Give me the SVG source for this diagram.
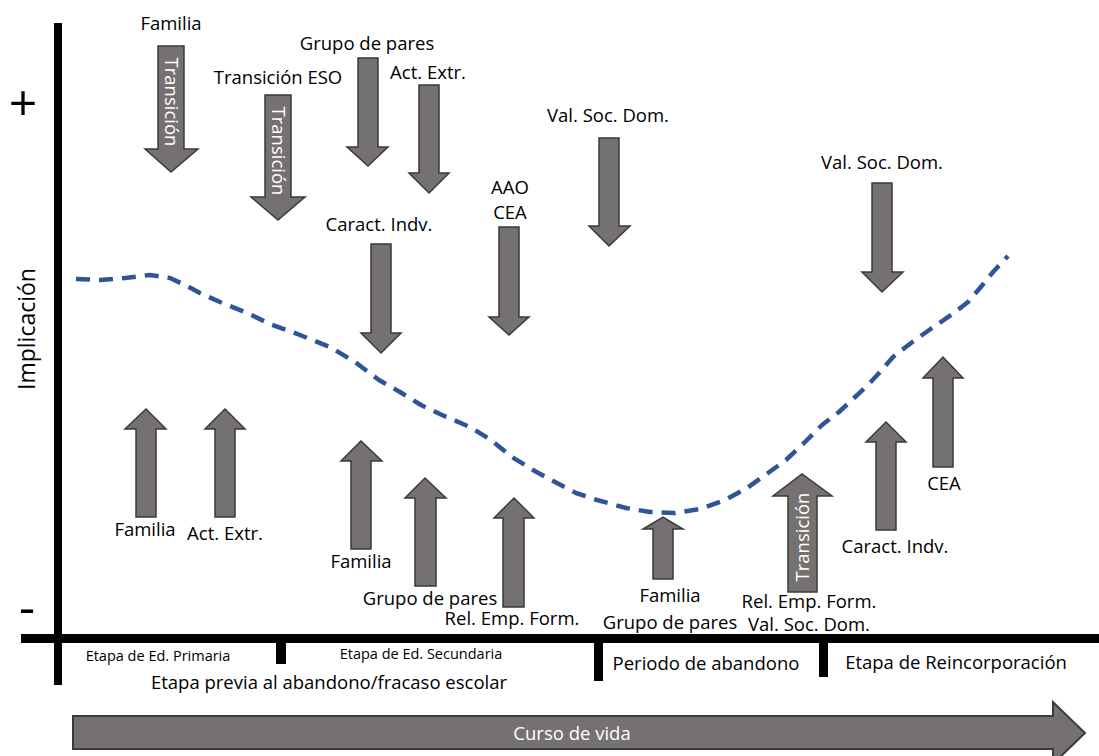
<svg xmlns="http://www.w3.org/2000/svg" width="1099" height="756" viewBox="0 0 1099 756">
<style>
.t{font-family:"Open Sans","Liberation Sans",sans-serif;font-size:18.5px;fill:#000;text-anchor:middle}
.sm{font-size:14.5px}
.w{fill:#fff}
.ar{fill:#767171;stroke:#3a3a3a;stroke-width:1.5;stroke-linejoin:miter}
.ax{fill:#000}
.curve{fill:none;stroke:#2F5597;stroke-width:4.5;stroke-dasharray:14 9;stroke-linejoin:round}
</style>
<rect width="1099" height="756" fill="#fff"/>
<g id="axes">
<rect class="ax" x="54" y="23" width="8" height="662"/>
<rect class="ax" x="21" y="634" width="1078" height="9"/>
<rect class="ax" x="276" y="643" width="10" height="21"/>
<rect class="ax" x="594" y="643" width="9" height="38"/>
<rect class="ax" x="819" y="643" width="9" height="34"/>
<text class="t" x="23" y="121" style="font-size:50px">+</text>
<text class="t" x="27" y="625" style="font-size:50px">-</text>
<text class="t" transform="translate(27,329) rotate(-90)" y="8" style="font-size:23px">Implicación</text>
<text class="t sm" x="158" y="661">Etapa de Ed. Primaria</text>
<text class="t sm" x="421" y="659">Etapa de Ed. Secundaria</text>
<text class="t" x="329" y="689">Etapa previa al abandono/fracaso escolar</text>
<text class="t" x="706" y="670">Periodo de abandono</text>
<text class="t" x="956" y="669">Etapa de Reincorporación</text>
</g>
<g id="curso">
<path class="ar" style="stroke-width:2" d="M73,716 H1053 V702 L1085,733 L1053,764 V749 H73 Z"/>
<text class="t w" x="572" y="740">Curso de vida</text>
</g>
<g id="connectors">
<polyline class="curve" points="76,279 100,280 125,278 150,275 170,278 185,285 200,293 220,302 245,312 270,324 300,335 330,347 355,362 379,380 400,392 421,405 442,415 470,427 491,440 512,457 533,470 551,480 576,493 597,500 626,508 650,512 675,513 700,509 725,500 747,488 768,473 786,460 804,443 822,425 839,412 854,398 868,385 880,372 893,357 911,343 932,328 954,313 968,302 980,288 993,272 1008,256"/>
</g>
<g id="d1">
<path class="ar" d="M158,46 H184 V149 H198 L171,172 L145,149 H158 Z"/>
<text class="t w" transform="translate(171,102) rotate(90)" y="6.5">Transición</text>
<text class="t" x="171" y="30">Familia</text>
</g>
<g id="d2">
<path class="ar" d="M265,95 H291 V197 H305 L278,220 L251,197 H265 Z"/>
<text class="t w" transform="translate(278,151) rotate(90)" y="6.5">Transición</text>
<text class="t" x="278" y="84">Transición ESO</text>
</g>
<g id="d3">
<path class="ar" d="M358,58 H378 V147 H388 L368,166 L347,147 H358 Z"/>
<text class="t" x="367" y="50">Grupo de pares</text>
</g>
<g id="d4">
<path class="ar" d="M419,85 H439 V173 H449 L429,193 L409,173 H419 Z"/>
<text class="t" x="428" y="79">Act. Extr.</text>
</g>
<g id="d5">
<path class="ar" d="M371,244 H391 V333 H401 L381,353 L361,333 H371 Z"/>
<text class="t" x="379" y="231">Caract. Indv.</text>
</g>
<g id="d6">
<path class="ar" d="M499,227 H519 V317 H529 L509,335 L489,317 H499 Z"/>
<text class="t" x="510" y="194">AAO</text>
<text class="t" x="510" y="219">CEA</text>
</g>
<g id="d7">
<path class="ar" d="M599,138 H619 V226 H630 L609,246 L589,226 H599 Z"/>
<text class="t" x="608" y="122">Val. Soc. Dom.</text>
</g>
<g id="d8">
<path class="ar" d="M872,183 H892 V272 H903 L882,292 L862,272 H872 Z"/>
<text class="t" x="882" y="169">Val. Soc. Dom.</text>
</g>
<g id="u1">
<path class="ar" d="M136,517 V429 H125 L146,409 L166,429 H156 V517 Z"/>
<text class="t" x="145" y="536">Familia</text>
</g>
<g id="u2">
<path class="ar" d="M215,517 V429 H205 L225,409 L245,429 H235 V517 Z"/>
<text class="t" x="225" y="540">Act. Extr.</text>
</g>
<g id="u3">
<path class="ar" d="M351,549 V461 H341 L361,441 L382,461 H371 V549 Z"/>
<text class="t" x="361" y="568">Familia</text>
</g>
<g id="u4">
<path class="ar" d="M415,586 V498 H405 L425,478 L446,498 H436 V586 Z"/>
<text class="t" x="430" y="605">Grupo de pares</text>
</g>
<g id="u5">
<path class="ar" d="M503,607 V518 H494 L514,498 L534,518 H524 V607 Z"/>
<text class="t" x="512" y="625">Rel. Emp. Form.</text>
</g>
<g id="u6">
<path class="ar" d="M653,579 V529 H643 L663,517 L683,529 H673 V579 Z"/>
<text class="t" x="670" y="602">Familia</text>
<text class="t" x="670" y="629">Grupo de pares</text>
</g>
<g id="u7">
<path class="ar" d="M788,592 V496 H773 L802,474 L832,496 H817 V592 Z"/>
<text class="t w" transform="translate(802,537) rotate(-90)" y="6.5">Transición</text>
<text class="t" x="809" y="608">Rel. Emp. Form.</text>
<text class="t" x="809" y="631">Val. Soc. Dom.</text>
</g>
<g id="u8">
<path class="ar" d="M876,530 V442 H866 L886,422 L906,442 H896 V530 Z"/>
<text class="t" x="895" y="553">Caract. Indv.</text>
</g>
<g id="u9">
<path class="ar" d="M933,467 V378 H923 L943,357 L963,378 H953 V467 Z"/>
<text class="t" x="944" y="490">CEA</text>
</g>
</svg>
